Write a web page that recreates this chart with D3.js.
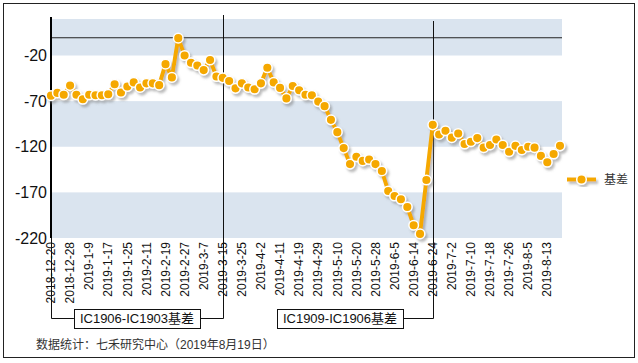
<!DOCTYPE html>
<html>
<head>
<meta charset="utf-8">
<title>基差</title>
<script src="https://d3js.org/d3.v7.min.js"></script>
<style>
    html, body { margin: 0; padding: 0; background: #fff; }
    svg { font-family: 'Liberation Sans', Arial, 'Noto Sans CJK SC', sans-serif; }
</style>
</head>
<body>
<div id="vis"></div>
<script>

// tick labels on the category axis (one every 3 points)
var tickLabels = ['2018-12-20','2018-12-28','2019-1-9','2019-1-17','2019-1-25','2019-2-11','2019-2-19','2019-2-27','2019-3-7',
    '2019-3-15','2019-3-25','2019-4-2','2019-4-11','2019-4-19','2019-4-29','2019-5-10','2019-5-20','2019-5-28',
    '2019-6-5','2019-6-14','2019-6-24','2019-7-2','2019-7-10','2019-7-18','2019-7-26','2019-8-5','2019-8-13'];
var tickStep = 3;

// 基差 values
var basis = [-64, -61, -63, -53, -63, -68, -63, -63.5, -63.5, -62.5,
    -51.5, -60.5, -54, -49.5, -55, -50.5, -50.5, -52.5, -29.5, -44,
    -1, -20, -28, -31, -36, -25, -43, -44.5, -48, -56,
    -50.5, -55, -57, -50.5, -33.5, -49.5, -55.5, -67, -53.5, -58,
    -63, -63.5, -70.5, -75.5, -90.5, -104, -121.5, -139, -131, -135.5,
    -134, -139, -146.5, -168.5, -174, -177.5, -186, -206, -215.5, -156.5,
    -96, -106.5, -102.5, -110, -105.5, -117, -114.5, -110.5, -121, -118,
    -112, -118, -125.5, -119, -123.5, -120, -121, -130, -137, -128, -119];

var yTicks = [-220, -170, -120, -70, -20];
var yDomain = [-220, 20];

// contract periods: label, first index, last index
var periodLabels = ['IC1906-IC1903基差', 'IC1909-IC1906基差'];
var periodEdges = [[0, 27], [27, 60]];

var seriesName = '基差';
var footNote = '数据统计：七禾研究中心（2019年8月19日）';

var W = 638, H = 363;
var plot = {left: 51, right: 562, top: 19, bottom: 238};
var orange = '#F5A800';
var band = '#DAE4EF';

var svg = d3.select('#vis').append('svg')
    .attr('width', W)
    .attr('height', H);

var defs = svg.append('defs');
var f = defs.append('filter').attr('id', 'shadow')
    .attr('x', '-20%').attr('y', '-20%').attr('width', '140%').attr('height', '140%');
f.append('feDropShadow')
    .attr('dx', 2).attr('dy', 2.5).attr('stdDeviation', 0.9)
    .attr('flood-color', '#777').attr('flood-opacity', 0.5);

// outer frame
svg.append('rect')
    .attr('x', 3.5).attr('y', 3.5)
    .attr('width', 631).attr('height', 354)
    .attr('fill', '#fff').attr('stroke', '#222').attr('stroke-width', 1);

var idx = d3.range(basis.length);
var x = d3.scalePoint().domain(idx).range([plot.left, 560]);
var y = d3.scaleLinear().domain(yDomain).range([plot.bottom, plot.top]);

// alternating bands between ticks
var edges = yTicks.concat([yDomain[1]]);
for (var i = 0; i < edges.length - 1; i += 2) {
    svg.append('rect')
        .attr('x', plot.left)
        .attr('y', y(edges[i + 1]))
        .attr('width', plot.right - plot.left)
        .attr('height', y(edges[i]) - y(edges[i + 1]))
        .attr('fill', band);
}

// category axis crosses at 0
svg.append('line')
    .attr('x1', plot.left).attr('x2', plot.right)
    .attr('y1', y(0) + 0.5).attr('y2', y(0) + 0.5)
    .attr('stroke', '#222').attr('stroke-width', 1);

// value axis
svg.append('line')
    .attr('x1', plot.left).attr('x2', plot.left)
    .attr('y1', 17).attr('y2', plot.bottom)
    .attr('stroke', '#000').attr('stroke-width', 2);

svg.selectAll('.ylab').data(yTicks).enter().append('text')
    .attr('class', 'ylab')
    .attr('x', 47)
    .attr('y', function(d) { return y(d); })
    .attr('dy', '0.35em')
    .attr('text-anchor', 'end')
    .attr('font-size', 16)
    .attr('fill', '#111')
    .text(function(d) { return d; });

// period brackets
var boxY = 309, boxH = 19, lineY = 318.5;
var boxCenters = [137, 340];
var lineTops = [15, 21];
periodEdges.forEach(function(p, k) {
    var xr = Math.round(x(p[1])) + 0.5;
    var label = svg.append('text')
        .attr('x', boxCenters[k]).attr('y', lineY)
        .attr('dy', '0.36em')
        .attr('text-anchor', 'middle')
        .attr('font-size', 13)
        .attr('fill', '#111')
        .text(periodLabels[k]);
    var bw = label.node().getComputedTextLength() + 12;
    var bx = boxCenters[k] - bw / 2;
    svg.insert('rect', function() { return label.node(); })
        .attr('x', Math.round(bx) + 0.5).attr('y', boxY + 0.5)
        .attr('width', Math.round(bw)).attr('height', boxH)
        .attr('fill', '#fff').attr('stroke', '#111');
    var pts = [[bx + bw, lineY], [xr, lineY], [xr, lineTops[k]]];
    svg.append('path')
        .attr('d', d3.line()(pts))
        .attr('fill', 'none').attr('stroke', '#111').attr('stroke-width', 1);
    if (k == 0) {
        var xl = Math.round(x(p[0])) + 0.5;
        svg.append('path')
            .attr('d', d3.line()([[xl, plot.bottom], [xl, lineY], [bx, lineY]]))
            .attr('fill', 'none').attr('stroke', '#111').attr('stroke-width', 1);
    }
});

// rotated date labels
svg.selectAll('.xlab').data(tickLabels).enter().append('text')
    .attr('class', 'xlab')
    .attr('transform', function(d, i) { return 'translate(' + x(i * tickStep) + ',242) rotate(-90)'; })
    .attr('dy', '0.35em')
    .attr('text-anchor', 'end')
    .attr('font-size', 12)
    .attr('fill', '#111')
    .text(function(d) { return d; });

// series
var g = svg.append('g').attr('filter', 'url(#shadow)');
g.append('path')
    .datum(basis)
    .attr('d', d3.line().x(function(d, i) { return x(i); }).y(function(d) { return y(d); }))
    .attr('fill', 'none')
    .attr('stroke', orange)
    .attr('stroke-width', 4)
    .attr('stroke-linejoin', 'round');
g.selectAll('circle').data(basis).enter().append('circle')
    .attr('cx', function(d, i) { return x(i); })
    .attr('cy', function(d) { return y(d); })
    .attr('r', 4.8)
    .attr('fill', orange)
    .attr('stroke', '#fff')
    .attr('stroke-width', 1.5);

// legend
var lg = svg.append('g').attr('transform', 'translate(567,179.5)');
var lgs = lg.append('g').attr('filter', 'url(#shadow)');
lgs.append('line').attr('x1', 0).attr('x2', 29).attr('y1', 0).attr('y2', 0)
    .attr('stroke', orange).attr('stroke-width', 4);
lgs.append('circle').attr('cx', 14.5).attr('cy', 0).attr('r', 4.8)
    .attr('fill', orange).attr('stroke', '#fff').attr('stroke-width', 1.5);
lg.append('text').attr('x', 37).attr('y', 0).attr('dy', '0.36em')
    .attr('font-size', 12).attr('fill', '#333')
    .text(seriesName);

// source note
svg.append('text')
    .attr('x', 36).attr('y', 345).attr('dy', '0.36em')
    .attr('font-size', 12).attr('fill', '#333')
    .text(footNote);

</script>
</body>
</html>
